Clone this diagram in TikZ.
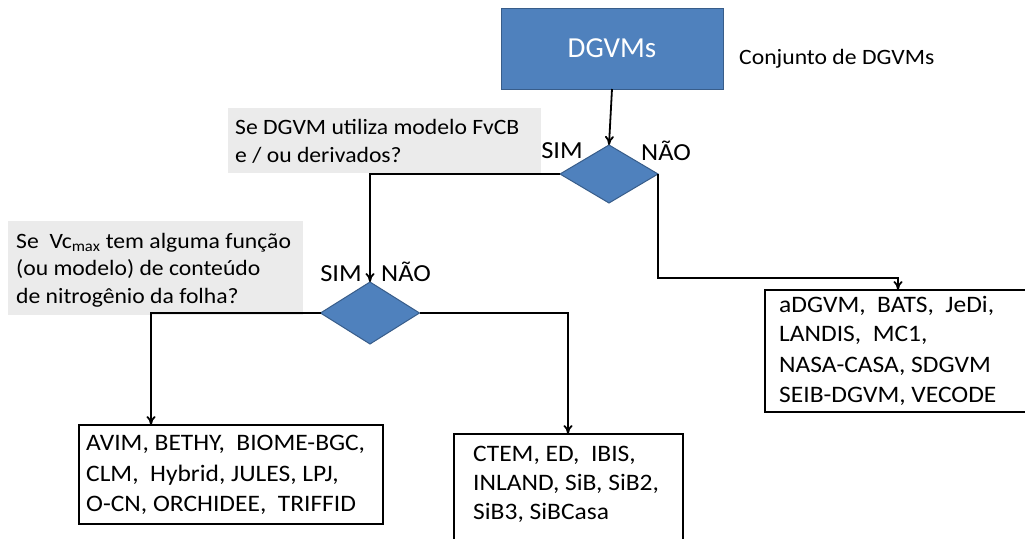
\documentclass[tikz,border=0pt]{standalone}
\usepackage{fontspec}
\setmainfont{Carlito}
\newfontfamily\cf[FakeStretch=1.08]{Carlito}
\usetikzlibrary{shapes.geometric,arrows.meta}
\definecolor{blu}{HTML}{4F81BD}
\definecolor{bluedge}{HTML}{385D8A}
\definecolor{gry}{HTML}{EBEBEB}
\begin{document}
\begin{tikzpicture}[x=1pt,y=-1pt,
  conn/.style={line width=1.8pt,-{To[length=9pt,width=9pt]}},
  dia/.style={diamond,draw=bluedge,fill=blu,line width=1pt,inner sep=0pt,outer sep=0pt},
  resbox/.style={draw=black,line width=1.8pt,rectangle,inner sep=0pt,outer sep=0pt},
  grybox/.style={fill=gry,draw=none,rectangle,inner sep=0pt,outer sep=0pt},
  btxt/.style={font=\cf\fontsize{23.6}{28}\selectfont,anchor=base west,inner sep=0pt},
  gtxt/.style={font=\cf\fontsize{21.9}{26}\selectfont,anchor=base west,inner sep=0pt},
  lbl/.style={font=\cf\fontsize{24.5}{28}\selectfont,anchor=base,inner sep=0pt}]
\useasboundingbox (0,0) rectangle (1025,538);
\clip (0,0) rectangle (1025,538);
% top box
\node[draw=bluedge,fill=blu,line width=1pt,minimum width=222pt,minimum height=81pt,inner sep=0pt,outer sep=0pt,text=white,font=\fontsize{29}{34}\selectfont] (dg) at (612,48.5) {DGVMs};
\node[gtxt] (conj) at (739,64) {Conjunto de DGVMs};
% gray question boxes
\node[grybox,minimum width=313pt,minimum height=65pt] (q1) at (384.5,140.5) {};
\node[gtxt] (q1a) at (235,134) {Se DGVM utiliza modelo FvCB};
\node[gtxt] (q1b) at (235,162) {e / ou derivados?};
\node[grybox,minimum width=295pt,minimum height=94pt] (q2) at (155.5,268) {};
\node[gtxt] (q2a) at (16,248) {Se\ \ Vc\textsubscript{max} tem alguma função};
\node[gtxt] (q2b) at (16,275.5) {(ou modelo) de conteúdo};
\node[gtxt] (q2c) at (16,303) {de nitrogênio da folha?};
% diamonds
\node[dia,minimum width=98pt,minimum height=58pt] (d1) at (609,174) {};
\node[dia,minimum width=99pt,minimum height=62pt] (d2) at (370,313) {};
\node[lbl] (s1) at (562,158) {SIM};
\node[lbl] (n1) at (666,160) {NÃO};
\node[lbl] (s2) at (341,281) {SIM};
\node[lbl] (n2) at (406,281) {NÃO};
% result boxes
\node[resbox,minimum width=304pt,minimum height=99pt] (b1) at (231,474.5) {};
\node[btxt] (b1a) at (86,450.5) {AVIM, BETHY,\ \ BIOME-BGC,};
\node[btxt] (b1b) at (86,481) {CLM,\ \ Hybrid, JULES, LPJ,};
\node[btxt] (b1c) at (86,511.5) {O-CN, ORCHIDEE,\ \ TRIFFID};
\node[resbox,minimum width=229pt,minimum height=106pt] (b2) at (568.5,487) {};
\node[btxt] (b2a) at (473,461) {CTEM, ED,\ \ IBIS,};
\node[btxt] (b2b) at (473,490) {INLAND, SiB, SiB2,};
\node[btxt] (b2c) at (473,519) {SiB3, SiBCasa};
\node[resbox,minimum width=266pt,minimum height=122pt] (b3) at (898,351) {};
\node[btxt] (b3a) at (779,312) {aDGVM,\ \ BATS,\ \ JeDi,};
\node[btxt] (b3b) at (779,341.5) {LANDIS,\ \ MC1,};
\node[btxt] (b3c) at (779,372) {NASA-CASA, SDGVM};
\node[btxt] (b3d) at (779,402) {SEIB-DGVM, VECODE};
% connectors
\coordinate (k1) at (898,278);
\coordinate (t1) at (151,425);
\coordinate (t2) at (568,434);
\draw[conn] (dg.south) -- (d1.north);
\draw[conn] (d1.west) -| (d2.north);
\draw[conn] (d1.east) |- (k1) -- (b3.north);
\draw[conn] (d2.west) -| (t1);
\draw[conn] (d2.east) -| (t2);
\end{tikzpicture}
\end{document}
